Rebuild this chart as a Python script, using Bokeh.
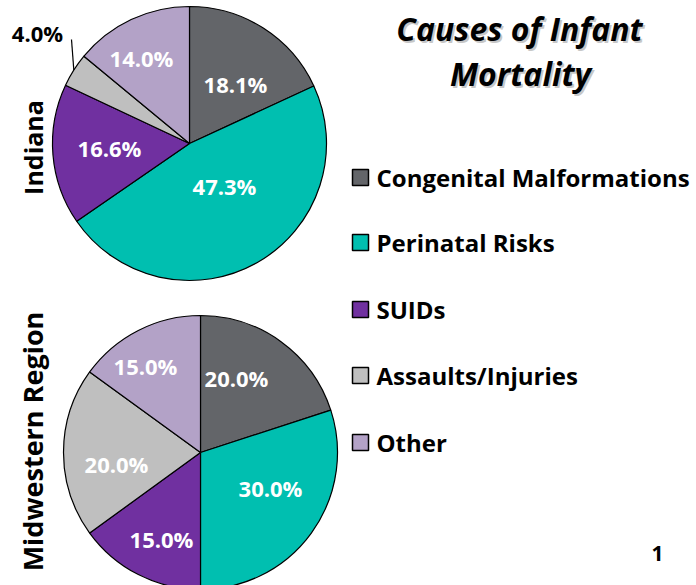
import math
from bokeh.plotting import figure
from bokeh.models import Range1d
from bokeh.core.properties import value
from bokeh.embed import file_html
from bokeh.resources import INLINE

# ---- data ----
categories = ["Congenital Malformations", "Perinatal Risks", "SUIDs", "Assaults/Injuries", "Other"]
indiana = [18.1, 47.3, 16.6, 4.0, 14.0]
midwest = [20.0, 30.0, 15.0, 20.0, 15.0]
colors = ["#636569", "#00BFB0", "#7030A0", "#BFBFBF", "#B3A2C7"]
title_lines = ["Causes of Infant", "Mortality"]
pie_names = ["Indiana", "Midwestern Region"]
page_number = "1"

# ---- layout (page pixels) ----
W, H = 696, 585
FONT = "Open Sans"


def Y(py):
    return H - py


p = figure(width=W, height=H, x_range=Range1d(0, W), y_range=Range1d(0, H),
           x_axis_type=None, y_axis_type=None, toolbar_location=None,
           output_backend="svg", min_border=0)
p.outline_line_color = None
p.xgrid.visible = False
p.ygrid.visible = False

R = 137
pies = [
    dict(vals=indiana, cx=189, cy=143,
         labels=[(235, 83), (224, 185), (109, 147), None, (141, 57)],
         outside=[None, None, None, (37, 32), None],
         name_pos=(32, 147), name_size="25px"),
    dict(vals=midwest, cx=200, cy=452,
         labels=[(236, 377), (270, 487), (161, 538), (116, 463), (145, 365)],
         outside=[None] * 5,
         name_pos=(32, 441), name_size="27px"),
]

for k, pie in enumerate(pies):
    vals = pie["vals"]
    total = sum(vals)
    cum = 0.0
    starts, ends = [], []
    for v in vals:
        starts.append(math.pi / 2 - 2 * math.pi * cum / total)
        cum += v
        ends.append(math.pi / 2 - 2 * math.pi * cum / total)
    p.wedge(x=[pie["cx"]] * len(vals), y=[Y(pie["cy"])] * len(vals), radius=R,
            start_angle=starts, end_angle=ends, direction="clock",
            fill_color=colors, line_color="black", line_width=1.2)
    lab_x, lab_y, lab_t = [], [], []
    for i, v in enumerate(vals):
        txt = f"{v:.1f}%"
        if pie["labels"][i] is not None:
            lx, ly = pie["labels"][i]
            lab_x.append(lx); lab_y.append(Y(ly)); lab_t.append(txt)
        if pie["outside"][i] is not None:
            ox, oy = pie["outside"][i]
            mid = (starts[i] + ends[i]) / 2
            ex = pie["cx"] + R * math.cos(mid)
            ey = pie["cy"] - R * math.sin(mid)
            p.line(x=[ox + 34, ex], y=[Y(oy + 7), Y(ey)], line_color="black", line_width=1.2)
            p.text(x=[ox], y=[Y(oy)], text=[txt], text_align="center", text_baseline="middle",
                   text_font=value(FONT), text_font_style="bold", text_font_size="22px",
                   text_color="black")
    p.text(x=lab_x, y=lab_y, text=lab_t, text_align="center", text_baseline="middle",
           text_font=value(FONT), text_font_style="bold", text_font_size="22px",
           text_color="white")
    nx, ny = pie["name_pos"]
    p.text(x=[nx], y=[Y(ny)], text=[pie_names[k]], angle=math.pi / 2,
           text_align="center", text_baseline="middle",
           text_font=value(FONT), text_font_style="bold", text_font_size=pie["name_size"],
           text_color="black")

# title with shadow
title_pos = [(519, 28), (520, 73)]
for (tx, ty), t in zip(title_pos, title_lines):
    p.text(x=[tx + 2], y=[Y(ty + 2)], text=[t], text_align="center", text_baseline="middle",
           text_font=value(FONT), text_font_style="bold italic", text_font_size="32px",
           text_color="#909090", text_alpha=0.5)
    p.text(x=[tx], y=[Y(ty)], text=[t], text_align="center", text_baseline="middle",
           text_font=value(FONT), text_font_style="bold italic", text_font_size="32px",
           text_color="black")

# legend
leg_y = [177, 242, 309, 375, 442]
p.rect(x=[360] * 5, y=[Y(v) for v in leg_y], width=16, height=16,
       fill_color=colors, line_color="black", line_width=1.5)
p.text(x=[376] * 5, y=[Y(v) for v in leg_y], text=categories, text_align="left",
       text_baseline="middle", text_font=value(FONT), text_font_style="bold",
       text_font_size="24px", text_color="black")

p.text(x=[657], y=[Y(553)], text=[page_number], text_align="center", text_baseline="middle",
       text_font=value(FONT), text_font_style="bold", text_font_size="21px", text_color="black")

open("out.html", "w").write(file_html(p, INLINE))
